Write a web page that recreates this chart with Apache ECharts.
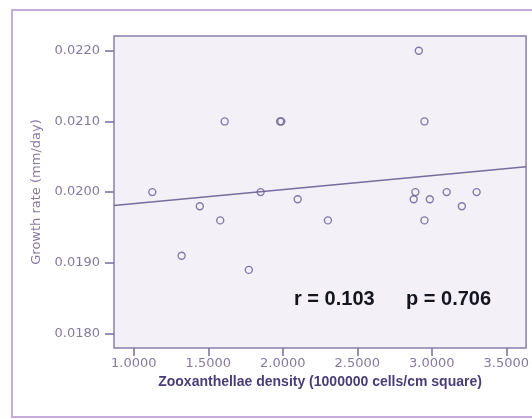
<!DOCTYPE html>
<html>
<head>
<meta charset="utf-8">
<script src="https://cdn.jsdelivr.net/npm/echarts@6/dist/echarts.min.js"></script>
<style>
  html, body { margin: 0; padding: 0; background: #fff; }
  #chart { width: 532px; height: 419px; }
</style>
</head>
<body>
<div id="chart"></div>
<script>
// zooxanthellae density (x, 10^6 cells/cm2) vs growth rate (y, mm/day)
const density = [1.124, 1.321, 1.443, 1.580, 1.610, 1.772, 1.851, 1.982, 1.990, 2.100,
  2.303, 2.879, 2.890, 2.913, 2.951, 2.951, 2.987, 3.100, 3.202, 3.301];
const growth = [0.0200, 0.0191, 0.0198, 0.0196, 0.0210, 0.0189, 0.0200, 0.0210, 0.0210, 0.0199,
  0.0196, 0.0199, 0.0200, 0.0220, 0.0210, 0.0196, 0.0199, 0.0200, 0.0198, 0.0200];
// fitted line (ends at the plot edges)
const fitX = [0.867, 3.633];
const fitY = [0.01981, 0.02036];
const xTicks = [1.0, 1.5, 2.0, 2.5, 3.0, 3.5];
const yTicks = [0.0180, 0.0190, 0.0200, 0.0210, 0.0220];
const statText = ["r = 0.103", "p = 0.706"];

const purple = "#7a6c9c";
const labelColor = "#857a9e";

const chart = echarts.init(document.getElementById("chart"), null, { renderer: "canvas" });

const option = {
  animation: false,
  backgroundColor: "#fff",
  grid: {
    left: 114, top: 36, right: 2, bottom: 71,
    show: true,
    backgroundColor: "#f3f1f7",
    borderColor: "#8d80aa",
    borderWidth: 1.5,
  },
  xAxis: {
    type: "value",
    min: 0.867,
    max: 3.633,
    name: "Zooxanthellae density (1000000 cells/cm square)",
    nameLocation: "middle",
    nameGap: 25,
    nameTextStyle: { color: "#4b3d78", fontFamily: "Liberation Sans", fontWeight: "bold", fontSize: 14 },
    axisLine: { show: false },
    splitLine: { show: false },
    axisTick: { show: true, length: 8, lineStyle: { color: purple, width: 1.5 }, customValues: xTicks },
    axisLabel: {
      customValues: xTicks,
      margin: 9,
      color: labelColor,
      fontFamily: "DejaVu Sans",
      fontSize: 13,
      formatter: (v) => v.toFixed(4),
    },
  },
  yAxis: {
    type: "value",
    min: 0.017795,
    max: 0.022208,
    name: "Growth rate (mm/day)",
    nameLocation: "middle",
    nameRotate: 90,
    nameGap: 69,
    nameTextStyle: { color: labelColor, fontFamily: "DejaVu Sans", fontSize: 13 },
    axisLine: { show: false },
    splitLine: { show: false },
    axisTick: { show: true, length: 9, lineStyle: { color: purple, width: 1.5 }, customValues: yTicks },
    axisLabel: {
      customValues: yTicks,
      margin: 14,
      color: labelColor,
      fontFamily: "DejaVu Sans",
      fontSize: 13,
      formatter: (v) => v.toFixed(4),
    },
  },
  series: [
    {
      type: "line",
      data: fitX.map((x, i) => [x, fitY[i]]),
      showSymbol: false,
      lineStyle: { color: purple, width: 1.5 },
      z: 2,
    },
    {
      type: "scatter",
      data: density.map((x, i) => [x, growth[i]]),
      symbol: "circle",
      symbolSize: 7,
      itemStyle: { color: "rgba(0,0,0,0)", borderColor: "#6a5b94", borderWidth: 1.4 },
      z: 3,
    },
  ],
  graphic: [
    {
      type: "rect",
      shape: { x: 12, y: 10, width: 530, height: 407 },
      style: { fill: null, stroke: "#c6abdc", lineWidth: 2 },
      silent: true,
      z: -1,
    },
    {
      type: "text",
      left: 294, top: 289,
      style: { text: statText[0], font: "bold 20px 'Liberation Sans'", fill: "#15151f" },
      z: 10,
    },
    {
      type: "text",
      left: 406, top: 289,
      style: { text: statText[1], font: "bold 20px 'Liberation Sans'", fill: "#15151f" },
      z: 10,
    },
  ],
};

chart.setOption(option);
</script>
</body>
</html>
